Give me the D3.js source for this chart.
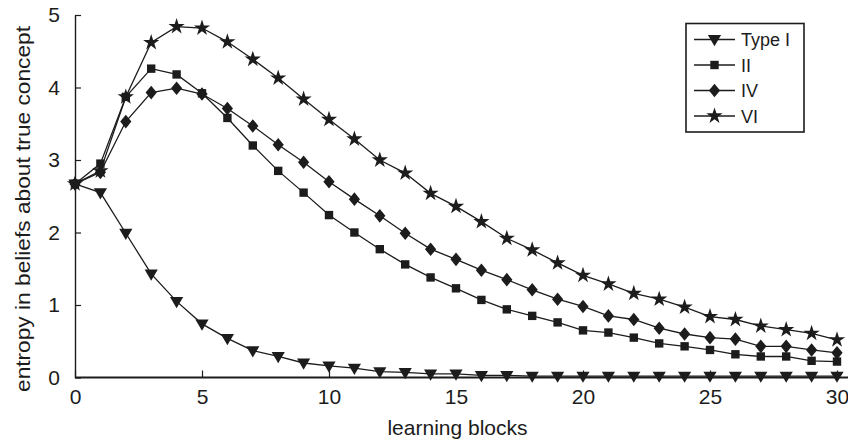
<!DOCTYPE html>
<html>
<head>
<meta charset="utf-8">
<script src="https://cdn.jsdelivr.net/npm/d3@7"></script>
<style>
  html, body { margin: 0; padding: 0; background: #fff; }
  svg { display: block; font-family: "Liberation Sans", Arial, sans-serif; }
</style>
</head>
<body>
<svg id="chart" width="848" height="440"></svg>
<script>
const blocks = d3.range(0, 31);
const seriesNames = ["Type I", "II", "IV", "VI"];
const typeI = [2.67, 2.55, 1.99, 1.43, 1.05, 0.74, 0.54, 0.37, 0.29, 0.20, 0.16, 0.13, 0.08, 0.07, 0.05, 0.05, 0.03, 0.03, 0.02, 0.02, 0.02, 0.02, 0.02, 0.02, 0.02, 0.02, 0.02, 0.02, 0.02, 0.02, 0.02];
const typeII = [2.67, 2.95, 3.87, 4.26, 4.18, 3.92, 3.58, 3.20, 2.85, 2.55, 2.24, 2.00, 1.77, 1.56, 1.38, 1.23, 1.07, 0.94, 0.85, 0.76, 0.65, 0.62, 0.55, 0.47, 0.43, 0.38, 0.32, 0.29, 0.29, 0.23, 0.22];
const typeIV = [2.67, 2.83, 3.53, 3.93, 3.99, 3.91, 3.71, 3.47, 3.21, 2.97, 2.70, 2.46, 2.23, 1.99, 1.77, 1.63, 1.48, 1.35, 1.21, 1.08, 0.98, 0.85, 0.80, 0.68, 0.60, 0.55, 0.53, 0.43, 0.43, 0.38, 0.34];
const typeVI = [2.67, 2.85, 3.87, 4.62, 4.84, 4.82, 4.63, 4.39, 4.13, 3.84, 3.56, 3.29, 3.00, 2.82, 2.54, 2.36, 2.15, 1.92, 1.76, 1.58, 1.41, 1.29, 1.16, 1.08, 0.97, 0.84, 0.80, 0.71, 0.66, 0.61, 0.52];
const xTicks = [0, 5, 10, 15, 20, 25, 30];
const yTicks = [0, 1, 2, 3, 4, 5];
const xTitle = "learning blocks";
const yTitle = "entropy in beliefs about true concept";

const ink = "#1c1c1c";
const svg = d3.select("#chart");
const x = d3.scaleLinear().domain([0, 30]).range([75, 837]);
const y = d3.scaleLinear().domain([0, 5]).range([377.5, 15]);

// marker shapes
const shapes = {
  tri: "M-6.6,-4.4L6.6,-4.4L0,6.8Z",
  square: "M-4.2,-4.2L4.2,-4.2L4.2,4.2L-4.2,4.2Z",
  diamond: "M0,-6.8L5.6,0L0,6.8L-5.6,0Z",
  star: d3.symbol(d3.symbolStar, 82)()
};
const series = [
  { name: seriesNames[0], values: typeI, shape: shapes.tri },
  { name: seriesNames[1], values: typeII, shape: shapes.square },
  { name: seriesNames[2], values: typeIV, shape: shapes.diamond },
  { name: seriesNames[3], values: typeVI, shape: shapes.star }
];

// axes
const xAxis = d3.axisBottom(x).tickValues(xTicks).tickFormat(d3.format("d"))
  .tickSizeInner(-7).tickSizeOuter(0).tickPadding(12);
const gx = svg.append("g").attr("transform", `translate(0,${y(0)})`).call(xAxis);
gx.select(".domain").remove();
gx.selectAll(".tick line").attr("stroke", ink).attr("stroke-width", 1.2);
gx.selectAll("text").attr("fill", ink).style("font-size", "21px").style("font-family", "Liberation Sans, Arial, sans-serif");

const yAxis = d3.axisLeft(y).tickValues(yTicks).tickFormat(d3.format("d"))
  .tickSizeInner(-6).tickSizeOuter(0).tickPadding(15);
const gy = svg.append("g").attr("transform", `translate(${x(0)},0)`).call(yAxis);
gy.select(".domain").attr("stroke", ink).attr("stroke-width", 1.4);
gy.selectAll(".tick line").attr("stroke", ink).attr("stroke-width", 1.2);
gy.selectAll("text").attr("fill", ink).style("font-size", "21px").style("font-family", "Liberation Sans, Arial, sans-serif");

svg.append("line").attr("x1", x(0)).attr("x2", 848).attr("y1", y(0)).attr("y2", y(0))
  .attr("stroke", ink).attr("stroke-width", 2);

// titles
svg.append("text").attr("x", 457.5).attr("y", 435).attr("text-anchor", "middle")
  .attr("fill", ink).style("font-size", "21px").text(xTitle);
svg.append("text").attr("transform", "translate(30,209) rotate(-90)").attr("text-anchor", "middle")
  .attr("fill", ink).style("font-size", "21px")
  .attr("textLength", 366).attr("lengthAdjust", "spacingAndGlyphs").text(yTitle);

// lines and markers
const line = d3.line().x((d, i) => x(blocks[i])).y(d => y(d));
series.forEach(s => {
  svg.append("path").datum(s.values).attr("d", line)
    .attr("fill", "none").attr("stroke", ink).attr("stroke-width", 1.3);
});
series.forEach(s => {
  svg.append("g").selectAll("path").data(s.values).join("path")
    .attr("d", s.shape)
    .attr("transform", (d, i) => `translate(${x(blocks[i])},${y(d)})`)
    .attr("fill", ink);
});

// legend
const lg = svg.append("g");
lg.append("rect").attr("x", 686).attr("y", 23.5).attr("width", 118).attr("height", 108.5)
  .attr("fill", "#fff").attr("stroke", ink).attr("stroke-width", 1.6);
series.forEach((s, i) => {
  const cy = 39.5 + i * 25.5;
  lg.append("line").attr("x1", 694).attr("x2", 735).attr("y1", cy).attr("y2", cy)
    .attr("stroke", ink).attr("stroke-width", 1.3);
  lg.append("path").attr("d", s.shape).attr("transform", `translate(714.5,${cy})`).attr("fill", ink);
  lg.append("text").attr("x", 741).attr("y", cy + 6.5).attr("fill", ink)
    .style("font-size", "18px").text(s.name);
});
</script>
</body>
</html>
